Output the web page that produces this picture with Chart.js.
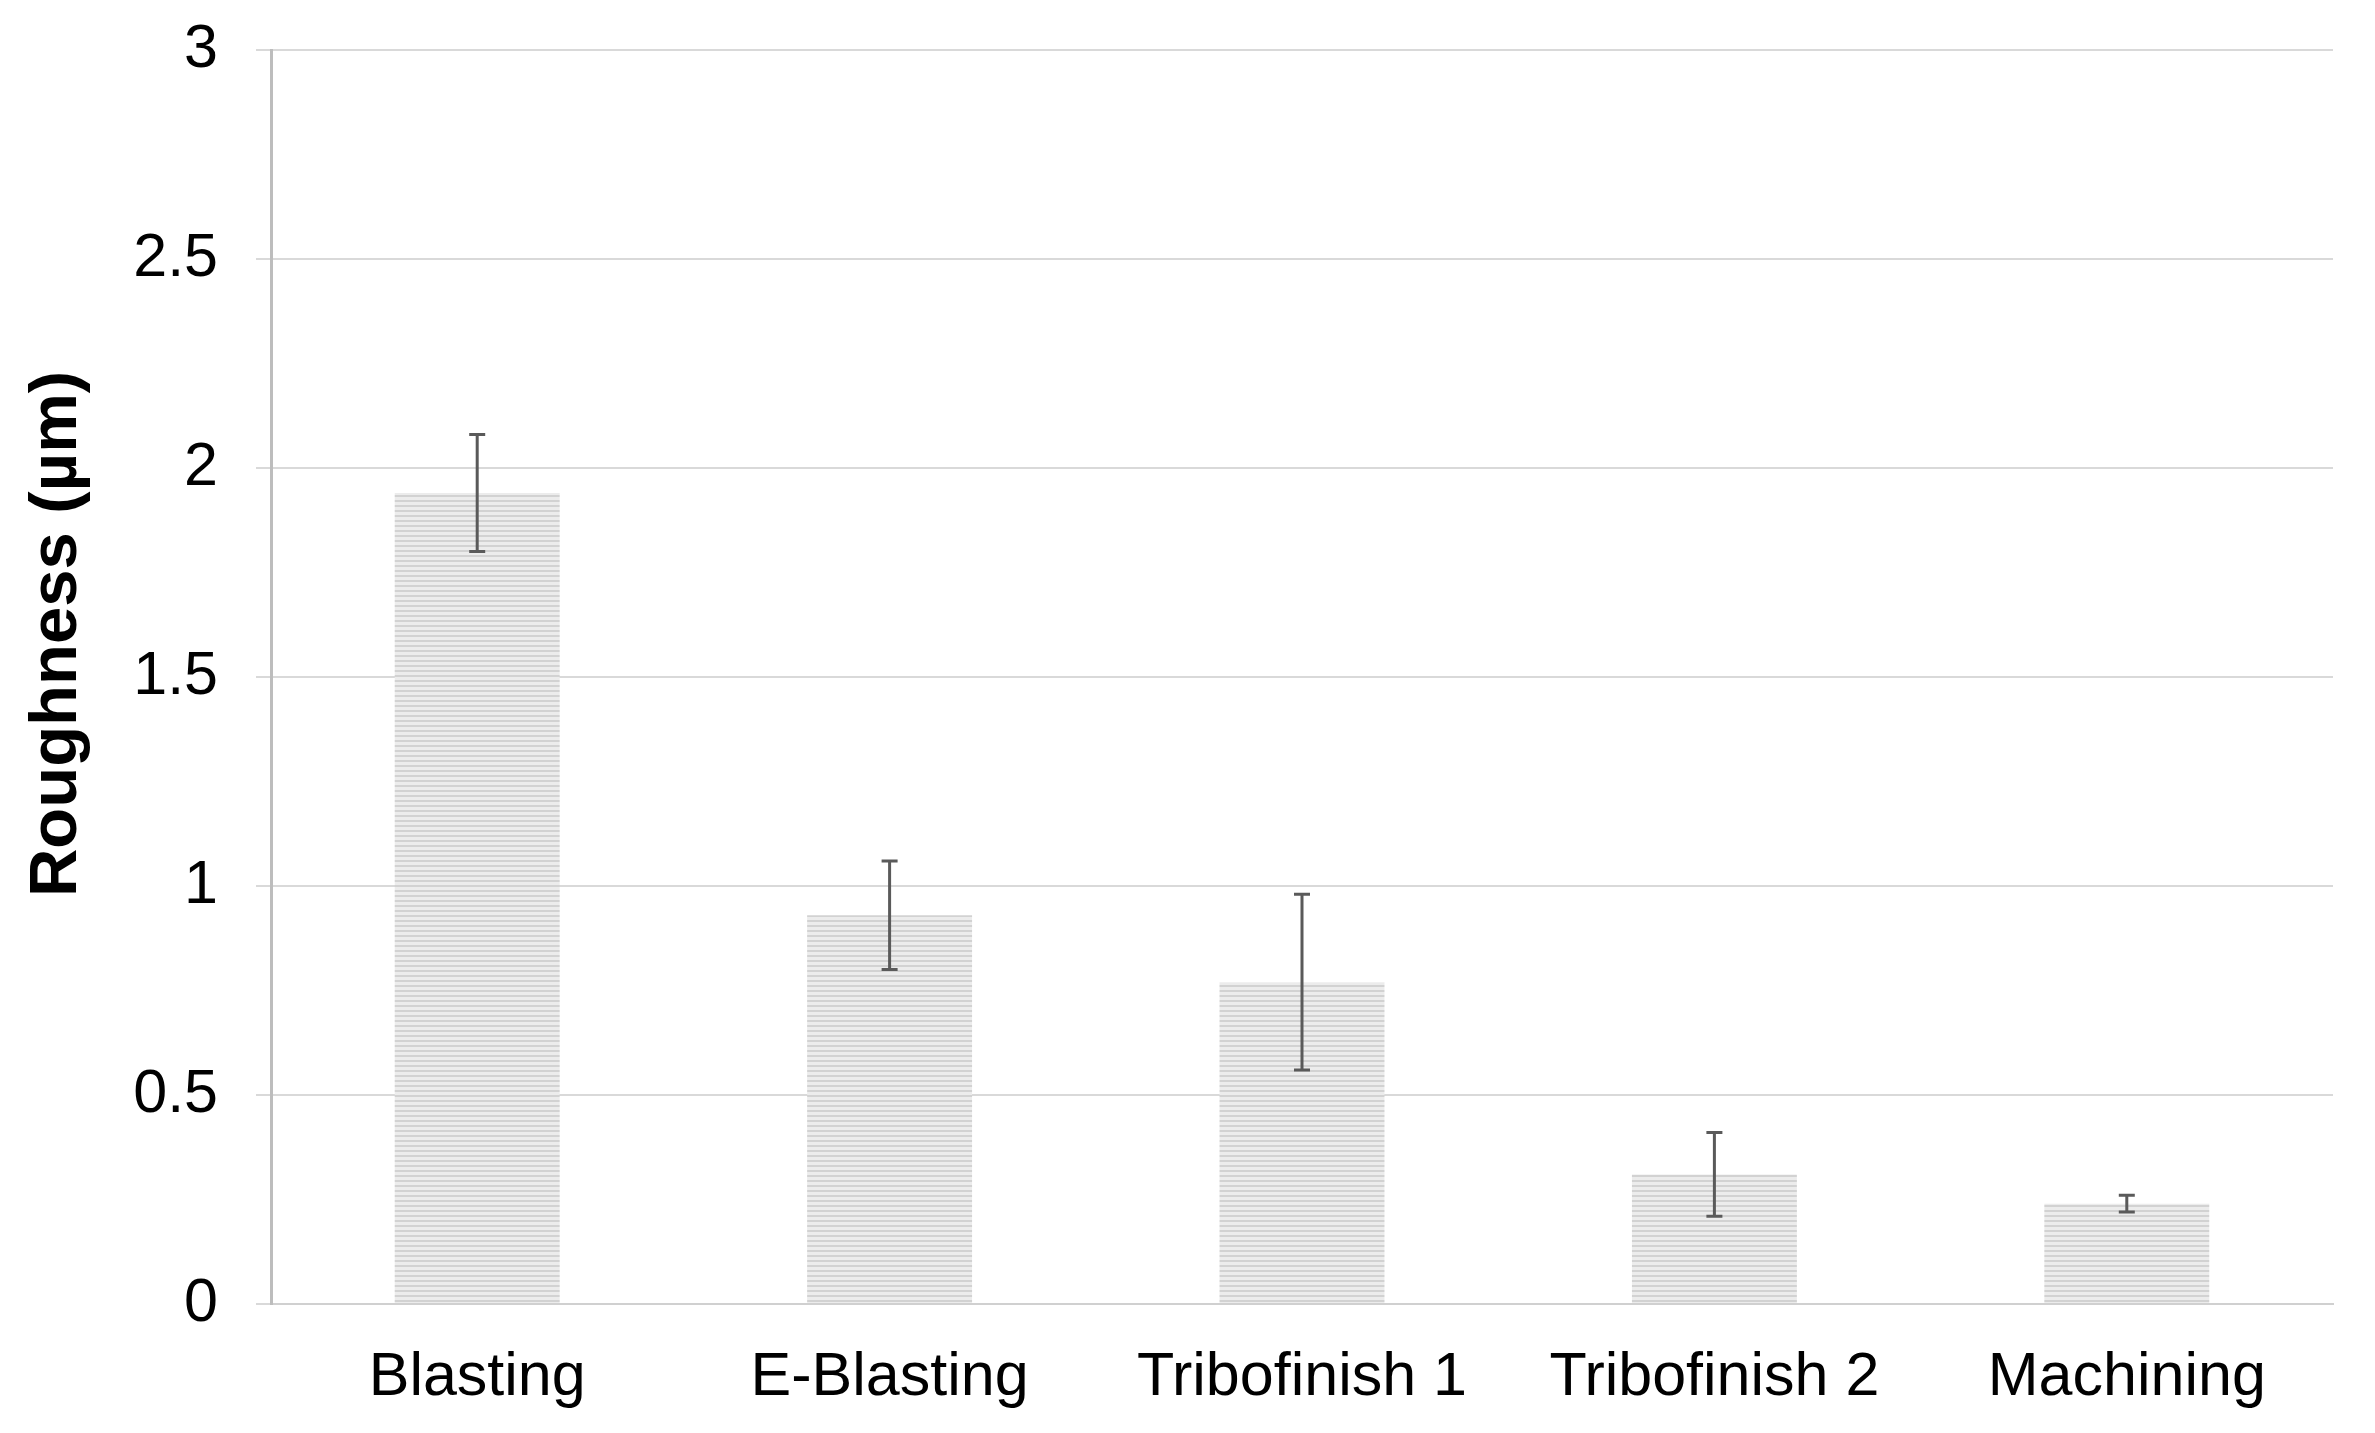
<!DOCTYPE html>
<html><head><meta charset="utf-8">
<script src="https://cdn.jsdelivr.net/npm/chart.js@4.4.1/dist/chart.umd.min.js"></script>
<style>html,body{margin:0;padding:0;background:#fff;overflow:hidden}#wrap{width:2375px;height:1433px}</style>
</head><body><div id="wrap"><canvas id="c" width="2375" height="1433"></canvas></div>
<script>
const categories = ['Blasting', 'E-Blasting', 'Tribofinish 1', 'Tribofinish 2', 'Machining'];
const roughness = [1.94, 0.93, 0.77, 0.31, 0.24];
const errors = [0.14, 0.13, 0.21, 0.10, 0.02];
const yTicks = [0, 0.5, 1, 1.5, 2, 2.5, 3];
const yTitle = 'Roughness (\u00b5m)';

function stripePattern() {
  const p = document.createElement('canvas');
  p.width = 8; p.height = 5;
  const g = p.getContext('2d');
  g.fillStyle = '#ececec'; g.fillRect(0, 0, 8, 5);
  g.fillStyle = '#d2d2d2'; g.fillRect(0, 0, 8, 2);
  return document.getElementById('c').getContext('2d').createPattern(p, 'repeat');
}

const errorBarPlugin = {
  id: 'errorBars',
  afterDatasetsDraw(chart) {
    const ctx = chart.ctx, meta = chart.getDatasetMeta(0), y = chart.scales.y;
    ctx.save();
    ctx.strokeStyle = '#5a5a5a';
    ctx.lineWidth = 3;
    meta.data.forEach((bar, i) => {
      const top = y.getPixelForValue(roughness[i] + errors[i]);
      const bot = y.getPixelForValue(roughness[i] - errors[i]);
      const x = bar.x, cap = 8;
      ctx.beginPath();
      ctx.moveTo(x, top); ctx.lineTo(x, bot);
      ctx.moveTo(x - cap, top); ctx.lineTo(x + cap, top);
      ctx.moveTo(x - cap, bot); ctx.lineTo(x + cap, bot);
      ctx.stroke();
    });
    ctx.restore();
  }
};

const yTitlePlugin = {
  id: 'yTitle',
  afterDraw(chart) {
    const ctx = chart.ctx, a = chart.chartArea;
    ctx.save();
    ctx.translate(58, (a.top + a.bottom) / 2 - 43);
    ctx.rotate(-Math.PI / 2);
    ctx.font = 'bold 67px "Liberation Sans", Arial, sans-serif';
    ctx.fillStyle = '#000';
    ctx.textAlign = 'center';
    ctx.textBaseline = 'middle';
    ctx.fillText(yTitle, 0, 0);
    ctx.restore();
  }
};

Chart.defaults.font.family = '"Liberation Sans", Arial, sans-serif';
Chart.defaults.color = '#000';

new Chart(document.getElementById('c'), {
  type: 'bar',
  data: {
    labels: categories,
    datasets: [{
      data: roughness,
      backgroundColor: stripePattern(),
      borderWidth: 0,
      categoryPercentage: 1,
      barPercentage: 0.4
    }]
  },
  plugins: [errorBarPlugin, yTitlePlugin],
  options: {
    responsive: false,
    devicePixelRatio: 1,
    animation: false,
    layout: { padding: { left: 0, right: 42, top: 50, bottom: 0 } },
    plugins: { legend: { display: false }, tooltip: { enabled: false } },
    scales: {
      x: {
        afterFit: s => { s.height = 129; s.paddingLeft = 0; s.paddingRight = 0; },
        grid: { display: false, drawTicks: false },
        border: { display: true, color: '#d0d0d0', width: 2 },
        ticks: { padding: 38, font: { size: 61 }, color: '#000' }
      },
      y: {
        min: 0, max: 3,
        afterFit: s => { s.width = 271; s.paddingTop = 0; s.paddingBottom = 0; },
        afterBuildTicks: s => { s.ticks = yTicks.map(v => ({ value: v })); },
        grid: { color: '#d9d9d9', lineWidth: 2, tickLength: 15 },
        border: { display: true, color: '#bdbdbd', width: 3 },
        ticks: { padding: 38, font: { size: 61 }, color: '#000', callback: v => String(v) },
        title: { display: false, text: yTitle }
      }
    }
  }
});
</script></body></html>
